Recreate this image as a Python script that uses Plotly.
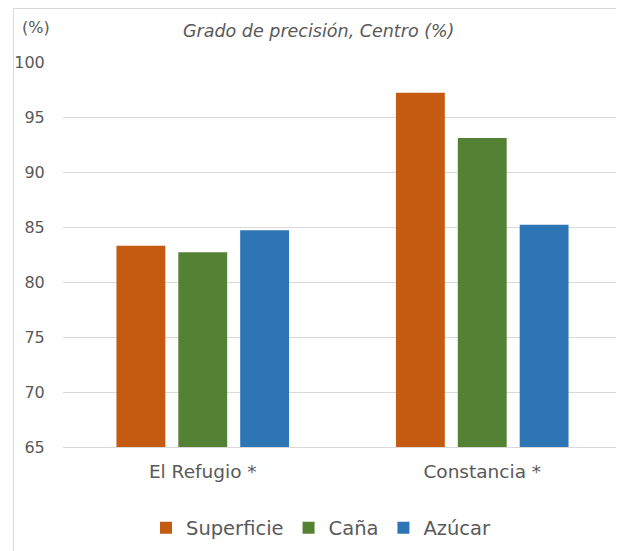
import plotly.graph_objects as go

categories = ["El Refugio *", "Constancia *"]
series_names = ["Superficie", "Caña", "Azúcar"]
superficie = [83.3, 97.2]
cana = [82.7, 93.1]
azucar = [84.7, 85.2]
colors = ["#C55A11", "#548235", "#2E75B6"]
y_ticks = [65, 70, 75, 80, 85, 90, 95, 100]

# page body adds an 8px offset; figure sized to fit the window
OFF = 8
W, H = 616, 543
L, R, T, B = 54.5, 2, 54, 104
PW, PH = W - L - R, H - T - B
FONT = "DejaVu Sans"
GRAY = "#595959"


def px(sx):
    return (sx - OFF - L) / PW


def py(sy):
    return (H - B - (sy - OFF)) / PH


fig = go.Figure()
for name, vals, col in zip(series_names, [superficie, cana, azucar], colors):
    fig.add_trace(go.Bar(
        x=[0, 1], y=vals, name=name,
        marker=dict(color=col, line=dict(width=0)),
    ))

fig.update_layout(
    width=W, height=H,
    margin=dict(l=L, r=R, t=T, b=B, autoexpand=False),
    paper_bgcolor="white", plot_bgcolor="white",
    barmode="group", bargap=0.336, bargroupgap=0.21,
    font=dict(family=FONT, color=GRAY, size=16),
    showlegend=True,
    legend=dict(orientation="h", x=(321.5 - OFF) / W, xanchor="center", xref="container",
                y=(H - (528 - OFF)) / H, yanchor="middle", yref="container",
                font=dict(size=19.5, color=GRAY), itemwidth=30,
                traceorder="normal"),
    xaxis=dict(range=[-0.5, 1.5], tickmode="array", tickvals=[0, 1],
               ticktext=categories, showgrid=False, zeroline=False,
               showline=True, linecolor="#D9D9D9", linewidth=1,
               ticks="outside", ticklen=8, tickcolor="rgba(0,0,0,0)",
               tickfont=dict(size=18.5, color=GRAY)),
    yaxis=dict(range=[65, 100], tickvals=y_ticks, showgrid=True,
               gridcolor="#D9D9D9", gridwidth=1, zeroline=False,
               showline=False, ticks="outside", ticklen=14,
               tickcolor="rgba(0,0,0,0)", tickfont=dict(size=16, color=GRAY)),
    shapes=[dict(type="rect", xref="paper", yref="paper",
                 x0=px(13), x1=px(622), y0=py(560), y1=py(8.5),
                 line=dict(color="#D9D9D9", width=1), fillcolor="rgba(0,0,0,0)",
                 layer="below")],
    annotations=[
        dict(text="<i>Grado de precisión, Centro (%)</i>", xref="paper", yref="paper",
             x=px(318), y=py(31), xanchor="center", yanchor="middle", showarrow=False,
             font=dict(size=17.5, color=GRAY)),
        dict(text="(%)", xref="paper", yref="paper",
             x=px(35.5), y=py(28), xanchor="center", yanchor="middle", showarrow=False,
             font=dict(size=16, color=GRAY)),
    ],
)
fig.write_html("out.html")
